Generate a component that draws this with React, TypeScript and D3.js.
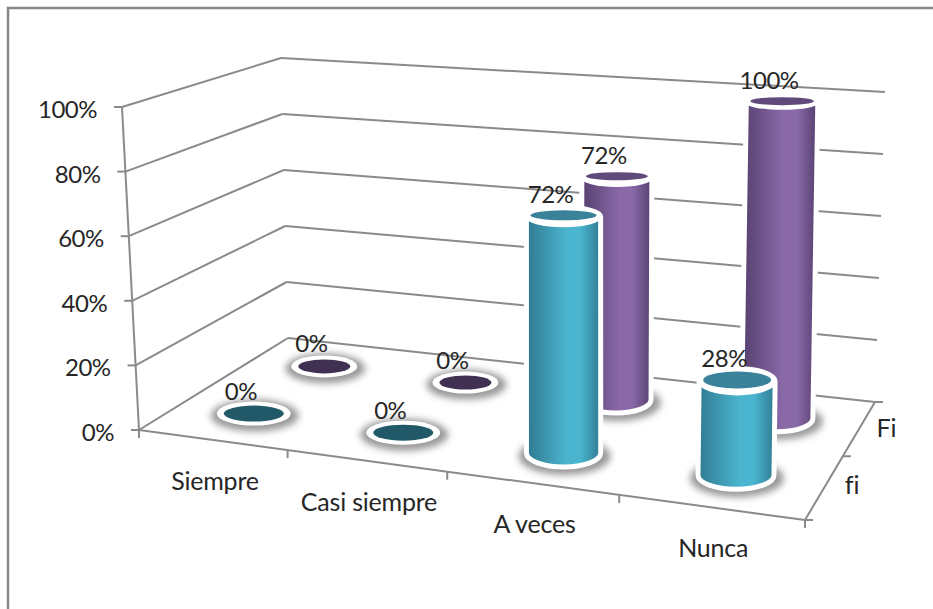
import React from "react";
import * as d3 from "d3";

const categories = ["Siempre", "Casi siempre", "A veces", "Nunca"];
const seriesNames = ["Fi", "fi"];
const valuesFiUpper = [0, 0, 72, 100];
const valuesFiLower = [0, 0, 72, 28];
const yTicks = [0, 20, 40, 60, 80, 100];

const W = 933, H = 609;
type P = [number, number];
const lineCol = "#8a8a8a";
const textCol = "#262626";
const font = "Lato, 'Open Sans', sans-serif";

function homography(p0: P, p1: P, p2: P, p3: P) {
  const [x0, y0] = p0, [x1, y1] = p1, [x2, y2] = p2, [x3, y3] = p3;
  const dx1 = x1 - x2, dx2 = x3 - x2, dy1 = y1 - y2, dy2 = y3 - y2;
  const sx = x0 - x1 + x2 - x3, sy = y0 - y1 + y2 - y3;
  const den = dx1 * dy2 - dx2 * dy1;
  const g = (sx * dy2 - dx2 * sy) / den, h = (dx1 * sy - sx * dy1) / den;
  const a = x1 - x0 + g * x1, b = x3 - x0 + h * x3;
  const d = y1 - y0 + g * y1, e = y3 - y0 + h * y3;
  return (u: number, v: number): P => {
    const w = g * u + h * v + 1;
    return [(a * u + b * v + x0) / w, (d * u + e * v + y0) / w];
  };
}
// floor plane: front-left, front-right, back-right, back-left
const floor = homography([139, 430], [805, 520], [875, 402], [288, 338]);
const tScale = d3.scaleLinear().domain([0, 100]).range([0, 1]);
const uScale = d3.scalePoint<string>().domain(categories).range([0, 1]).padding(0.5);
const vScale = d3.scalePoint<string>().domain(["fi", "Fi"]).range([0, 1]).padding(0.5);
// verticals lean outward from the middle of the picture
const leanScale = d3.scaleLinear().domain([139, 288, 565, 780, 875]).range([-17, -7, 0, 5, 10]);
const heightFront = d3.scaleLinear().domain([0, 1]).range([323, 347]);
const heightBack = d3.scaleLinear().domain([0, 1]).range([280, 310]);
const project = (u: number, v: number, val: number): P => {
  const a = floor(u, v), t = tScale(val);
  const h = heightFront(u) + (heightBack(u) - heightFront(u)) * v;
  return [a[0] + leanScale(a[0]) * t, a[1] - h * t];
};
const columnShift = 2.5;
const rxScale = d3.scaleLinear().domain([400, 475]).range([35, 38]);
const ryScale = d3.scaleLinear().domain([100, 216, 383, 472]).range([6, 9.5, 13, 14]);

const line = (a: P, b: P, k?: string | number) => (
  <line key={k} x1={a[0]} y1={a[1]} x2={b[0]} y2={b[1]} stroke={lineCol} strokeWidth={2} />
);

const palette: Record<string, { grad: string; top: string; zero: string }> = {
  Fi: { grad: "url(#gPurple)", top: "#604a7b", zero: "#403152" },
  fi: { grad: "url(#gTeal)", top: "#3a8299", zero: "#215968" },
};

function Column({ cat, ser, val }: { cat: string; ser: string; val: number }) {
  const u = uScale(cat)!, v = vScale(ser)!;
  const b0 = project(u, v, 0), t0 = project(u, v, val);
  const bx = b0[0] + columnShift, by = b0[1];
  const tx = t0[0] + columnShift, ty = t0[1];
  const rx = rxScale(by);
  const c = palette[ser];
  const ryB = ryScale(by);
  const shadow = <ellipse cx={bx + 1} cy={by + 3} rx={rx + 9} ry={ryB + 5} fill="#555" opacity={0.6} filter="url(#blur)" />;
  const label = (
    <text x={tx - 13} y={ty - 14} textAnchor="middle" fontFamily={font} fontSize={24} letterSpacing={-0.5} fill={textCol}>{val}%</text>
  );
  if (val === 0) {
    const zry = ser === "fi" ? 12 : 11;
    const zrx = ser === "fi" ? 37 : 33;
    return (
      <g>
        <ellipse cx={bx + 1} cy={by + 2} rx={zrx + 7} ry={zry + 4} fill="#555" opacity={0.6} filter="url(#blur)" />
        <ellipse cx={bx} cy={by} rx={zrx} ry={zry} fill="#fff" />
        <ellipse cx={bx} cy={by} rx={zrx - 7} ry={zry - 4} fill={c.zero} />
        {label}
      </g>
    );
  }
  const ryT = ryScale(ty);
  const body = `M${tx - rx},${ty} L${bx - rx},${by} A${rx},${ryB} 0 0 0 ${bx + rx},${by} L${tx + rx},${ty} A${rx},${ryT} 0 0 0 ${tx - rx},${ty} Z`;
  return (
    <g>
      {shadow}
      <path d={body} fill={c.grad} stroke="#fff" strokeWidth={5} strokeLinejoin="round" />
      <ellipse cx={tx} cy={ty} rx={rx + 1.5} ry={ryT + 1} fill="#fff" />
      <ellipse cx={tx} cy={ty - 1.5} rx={rx - 4} ry={Math.max(ryT - 4.5, 4)} fill={c.top} />
      {label}
    </g>
  );
}

export default function App() {
  const rows: [string, number[]][] = [["Fi", valuesFiUpper], ["fi", valuesFiLower]];
  const frontTicks = [0, 1, 2, 3, 4].map((i) => i / categories.length);
  const sideTicks = [0, 0.5, 1];
  const mk = (id: string, e: string, m: string) => (
    <linearGradient id={id} x1="0" x2="1" y1="0" y2="0">
      <stop offset="0" stopColor={e} />
      <stop offset="0.55" stopColor={m} />
      <stop offset="0.72" stopColor={m} />
      <stop offset="1" stopColor={e} />
    </linearGradient>
  );
  return (
    <svg width={W} height={H} style={{ position: "absolute", left: 0, top: 0, background: "#fff" }}>
      <defs>
        {mk("gTeal", "#2f7a90", "#4bb5d0")}
        {mk("gPurple", "#553f6e", "#8a69a9")}
        <filter id="blur" x="-30%" y="-60%" width="160%" height="220%">
          <feGaussianBlur stdDeviation="3.5" />
        </filter>
      </defs>
      <path d={`M8,${H} L8,8 L${W},8`} fill="none" stroke="#868686" strokeWidth={2.5} />

      {yTicks.map((t) => {
        const f = project(0, 0, t);
        return (
          <g key={t}>
            {line(f, project(0, 1, t))}
            {line(project(0, 1, t), project(1, 1, t))}
            {line(f, [f[0] - 8, f[1]])}
            <text x={f[0] - 25} y={f[1] + 11} textAnchor="end" fontFamily={font} fontSize={24} letterSpacing={-0.5} fill={textCol}>{t}%</text>
          </g>
        );
      })}
      {line(project(0, 0, 0), project(0, 0, 100), "axis")}
      {line(project(0, 0, 0), project(1, 0, 0), "front")}
      {line(project(1, 0, 0), project(1, 1, 0), "side")}
      {frontTicks.map((u) => line(floor(u, 0), [floor(u, 0)[0], floor(u, 0)[1] + 8], "ft" + u))}
      {sideTicks.map((v) => line(floor(1, v), [floor(1, v)[0] + 8, floor(1, v)[1]], "st" + v))}

      {rows.map(([s, vals]) =>
        vals.map((val, i) => <Column key={s + i} cat={categories[i]} ser={s} val={val} />)
      )}

      {categories.map((c) => {
        const [x, y] = floor(uScale(c)!, 0);
        return (
          <text key={c} x={x + 3} y={y + 50} textAnchor="middle" fontFamily={font} fontSize={25} letterSpacing={-0.2} fill={textCol}>{c}</text>
        );
      })}
      {seriesNames.map((s) => {
        const [x, y] = floor(1, vScale(s)!);
        return (
          <text key={s} x={x + (s === "fi" ? 20 : 17)} y={y + (s === "fi" ? 7 : 9)} fontFamily={font} fontSize={25} fill={textCol} style={{ fontVariantLigatures: "none" }}>{s}</text>
        );
      })}
    </svg>
  );
}
